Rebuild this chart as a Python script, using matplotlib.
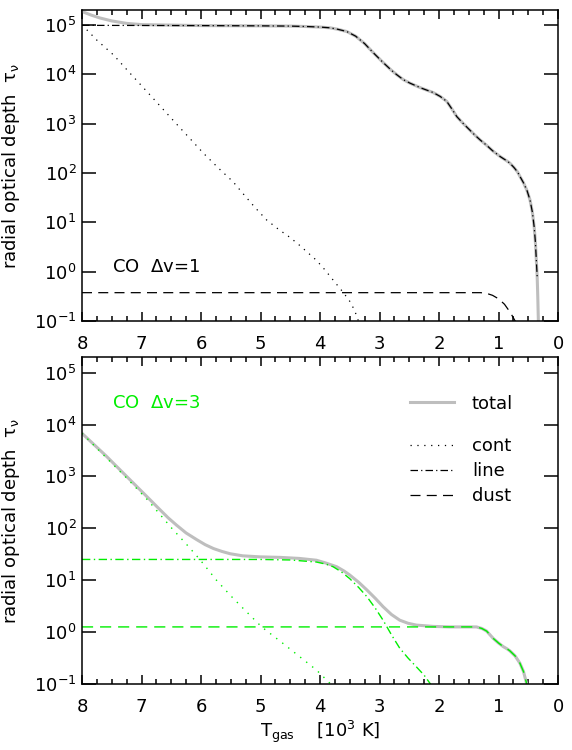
import matplotlib
matplotlib.use("Agg")
import matplotlib.pyplot as plt
from matplotlib.lines import Line2D
from matplotlib.ticker import MultipleLocator, LogLocator, NullLocator, LogFormatterMathtext
import numpy as np

plt.rcParams['font.family'] = ['DejaVu Sans']
plt.rcParams['mathtext.default'] = 'regular'

# ---- data (T in 10^3 K, values given as log10 tau) ----
# top panel: CO dv=1
top_line_T = [8.0, 6.0, 5.0, 4.5, 4.2, 4.0, 3.83, 3.7, 3.55, 3.4, 3.25, 3.1, 2.95, 2.8, 2.71,
              2.6, 2.49, 2.3, 2.1, 1.98, 1.87, 1.78, 1.7, 1.6, 1.5, 1.4, 1.31, 1.2, 1.1,
              0.97, 0.88, 0.81, 0.74, 0.68, 0.64, 0.58, 0.52, 0.47, 0.43, 0.40, 0.38,
              0.365, 0.35]
top_line_log = [4.99, 4.985, 4.98, 4.975, 4.965, 4.955, 4.94, 4.91, 4.865, 4.77, 4.62, 4.43,
                4.25, 4.08, 3.99, 3.89, 3.82, 3.72, 3.63, 3.55, 3.45, 3.29, 3.14, 3.01,
                2.89, 2.77, 2.67, 2.56, 2.45, 2.33, 2.26, 2.20, 2.11, 2.02, 1.93, 1.80,
                1.64, 1.45, 1.20, 0.90, 0.60, 0.25, -0.1]

top_total_T = [8.0, 7.85, 7.7, 7.5, 7.25, 7.0, 6.5] + top_line_T[1:] + [0.34, 0.33, 0.33]
top_total_log = [5.27, 5.20, 5.14, 5.08, 5.03, 5.005, 4.995] + top_line_log[1:] + [-0.5, -1.0, -1.5]

top_cont_T = [8.0, 7.75, 7.47, 7.2, 6.91, 6.63, 6.35, 6.15, 5.96, 5.7, 5.46, 5.3, 5.1, 4.9,
              4.7, 4.5, 4.34, 4.2, 4.06, 3.92, 3.78, 3.61, 3.5, 3.42, 3.36, 3.3]
top_cont_log = [5.0, 4.69, 4.39, 4.03, 3.65, 3.28, 2.91, 2.65, 2.40, 2.09, 1.82, 1.59, 1.31,
                1.05, 0.86, 0.69, 0.53, 0.38, 0.23, 0.04, -0.17, -0.42, -0.60, -0.78, -0.98,
                -1.2]

top_dust_T = [8.0, 1.30, 1.2, 1.1, 1.0, 0.9, 0.8, 0.72, 0.68]
top_dust_log = [-0.426, -0.426, -0.44, -0.48, -0.55, -0.66, -0.83, -1.0, -1.1]

# bottom panel: CO dv=3
bot_total_T = [8.0, 7.6, 7.25, 6.9, 6.7, 6.55, 6.41, 6.25, 6.07, 5.93, 5.79, 5.65, 5.51, 5.3,
               5.01, 4.67, 4.35, 4.06, 3.9, 3.72, 3.6, 3.5, 3.35, 3.21, 3.07, 2.94, 2.8,
               2.66, 2.52, 2.38, 2.1, 1.82, 1.6, 1.37, 1.28, 1.2, 1.09, 1.0, 0.92, 0.86,
               0.81, 0.72, 0.64, 0.58, 0.53, 0.5]
bot_total_log = [3.83, 3.40, 3.0, 2.60, 2.37, 2.2, 2.06, 1.91, 1.78, 1.685, 1.61, 1.555, 1.51,
                 1.47, 1.45, 1.44, 1.42, 1.385, 1.33, 1.26, 1.18, 1.10, 0.96, 0.81, 0.65,
                 0.49, 0.34, 0.23, 0.17, 0.135, 0.11, 0.10, 0.10, 0.10, 0.07, 0.02, -0.12,
                 -0.21, -0.28, -0.32, -0.36, -0.46, -0.60, -0.76, -0.98, -1.1]

bot_line_T = [8.0, 5.0, 4.5, 4.06, 3.9, 3.78, 3.64, 3.5, 3.35, 3.21, 3.07, 2.94, 2.8, 2.66,
              2.52, 2.38, 2.25, 2.15, 2.1]
bot_line_log = [1.40, 1.40, 1.39, 1.35, 1.31, 1.26, 1.16, 1.03, 0.86, 0.68, 0.46, 0.23, -0.05,
                -0.31, -0.50, -0.67, -0.83, -0.99, -1.07]

bot_cont_T = [8.0, 7.6, 7.25, 6.9, 6.49, 6.25, 6.02, 5.74, 5.5, 5.26, 4.98, 4.8, 4.62, 4.34,
              4.06, 3.83, 3.8]
bot_cont_log = [3.83, 3.37, 2.97, 2.55, 2.0, 1.70, 1.40, 1.0, 0.70, 0.42, 0.10, -0.06, -0.22,
                -0.475, -0.73, -0.99, -1.03]

bot_dust_T = [8.0, 1.40, 1.37, 1.28, 1.2, 1.09, 1.0, 0.92, 0.86, 0.81, 0.72, 0.64, 0.58, 0.53, 0.5]
bot_dust_log = [0.10, 0.10, 0.10, 0.07, 0.02, -0.12, -0.21, -0.28, -0.32, -0.36, -0.46, -0.60,
                -0.76, -0.98, -1.1]

GRAY = '#bebebe'
GREEN = '#00ee00'
DOT = (0, (1, 4.5))
DASH = (0, (8, 5))
DASHDOT = (0, (6, 2.5, 1, 2.5))
FS = 13

fig = plt.figure(figsize=(5.72, 7.5), dpi=100)
W, H = 572, 750
L, R = 82, 558
ax_top = fig.add_axes([L / W, (H - 321) / H, (R - L) / W, 311 / H])
ax_bot = fig.add_axes([L / W, (H - 684) / H, (R - L) / W, 327 / H])


def tau(v):
    return np.power(10.0, np.asarray(v))


def style_axes(ax):
    ax.set_yscale('log')
    ax.set_xlim(8, 0)
    ax.set_ylim(0.1, 2e5)
    ax.xaxis.set_major_locator(MultipleLocator(1))
    ax.xaxis.set_minor_locator(MultipleLocator(0.25))
    ax.yaxis.set_major_locator(LogLocator(base=10, numticks=20))
    ax.yaxis.set_major_formatter(LogFormatterMathtext())
    ax.yaxis.set_minor_locator(NullLocator())
    ax.tick_params(axis='both', which='both', direction='in', top=True, right=True,
                   width=1.1, labelsize=FS)
    ax.tick_params(axis='x', which='major', length=6.5, pad=10)
    ax.tick_params(axis='x', which='minor', length=3.4)
    ax.tick_params(axis='y', which='major', length=10, pad=4)
    ax.set_xticks(range(0, 9))
    ax.set_xticklabels([str(i) for i in range(0, 9)])
    for s in ax.spines.values():
        s.set_linewidth(1.1)
    ax.set_ylabel(r'radial optical depth  $\tau_\nu$', fontsize=FS)
    ax.yaxis.set_label_coords(-0.126, 0.5)


# top panel
ax = ax_top
ax.plot(top_total_T, tau(top_total_log), color=GRAY, lw=2.2)
ax.plot(top_line_T, tau(top_line_log), color='black', lw=0.9, ls=DASHDOT)
ax.plot(top_cont_T, tau(top_cont_log), color='black', lw=0.9, ls=DOT)
ax.plot(top_dust_T, tau(top_dust_log), color='black', lw=0.9, ls=DASH)
style_axes(ax)
ax.text(0.063, 0.175, r'CO  $\Delta$v=1', transform=ax.transAxes, fontsize=FS,
        va='center', ha='left')

# bottom panel
ax = ax_bot
ax.plot(bot_total_T, tau(bot_total_log), color=GRAY, lw=2.2)
ax.plot(bot_line_T, tau(bot_line_log), color=GREEN, lw=1.0, ls=DASHDOT)
ax.plot(bot_cont_T, tau(bot_cont_log), color=GREEN, lw=1.0, ls=DOT)
ax.plot(bot_dust_T, tau(bot_dust_log), color=GREEN, lw=1.0, ls=DASH)
style_axes(ax)
ax.text(0.063, 0.858, r'CO  $\Delta$v=3', transform=ax.transAxes, fontsize=FS,
        va='center', ha='left', color=GREEN)
ax.set_xlabel(r'T$_{\rm gas}$    [10$^3$ K]', fontsize=FS, labelpad=2)

leg_kw = dict(loc='upper left', frameon=False, fontsize=FS, handlelength=2.4,
              handletextpad=1.0, labelspacing=0.38, borderaxespad=0, borderpad=0)
leg1 = ax.legend([Line2D([], [], color=GRAY, lw=2.2)], ['total'],
                 bbox_to_anchor=(0.69, 0.885), **leg_kw)
ax.add_artist(leg1)
ax.legend([Line2D([], [], color='black', lw=0.9, ls=DOT),
           Line2D([], [], color='black', lw=0.9, ls=DASHDOT),
           Line2D([], [], color='black', lw=0.9, ls=DASH)],
          ['cont', 'line', 'dust'], bbox_to_anchor=(0.69, 0.755), **leg_kw)

fig.savefig('out.png', dpi=100)
